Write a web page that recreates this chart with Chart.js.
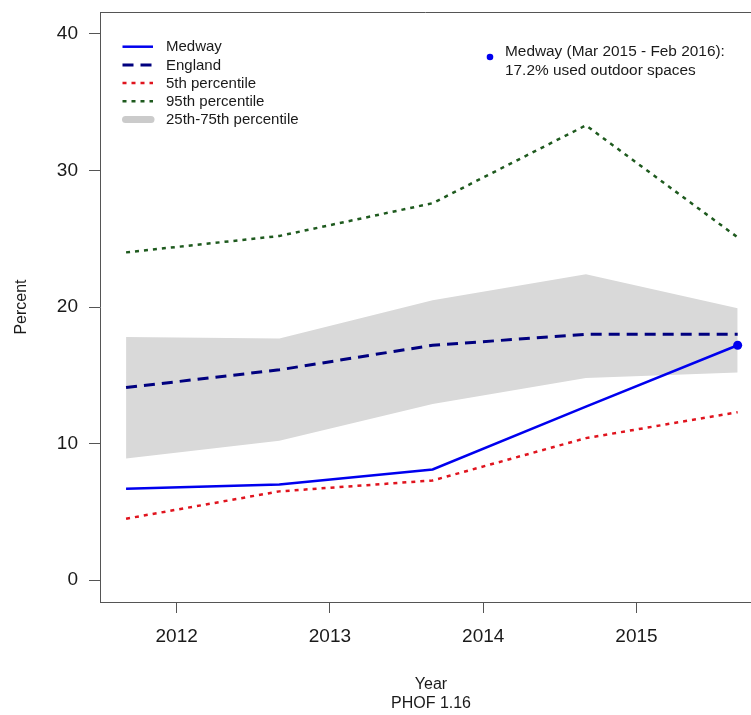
<!DOCTYPE html>
<html>
<head>
<meta charset="utf-8">
<script src="https://cdn.jsdelivr.net/npm/chart.js@4.4.1/dist/chart.umd.min.js"></script>
<style>
  html, body { margin: 0; padding: 0; background: #ffffff; overflow: hidden; width: 751px; height: 715px; }
  canvas { display: block; }
</style>
</head>
<body>
<canvas id="c" width="751" height="715"></canvas>
<script>
// Survey periods run March to February; each is plotted at its mid-point.
const periods = ['Mar 2011 - Feb 2012', 'Mar 2012 - Feb 2013', 'Mar 2013 - Feb 2014', 'Mar 2014 - Feb 2015', 'Mar 2015 - Feb 2016'];
const periodMid = [2011.67, 2012.67, 2013.67, 2014.67, 2015.66];

// Percentage of people using outdoor space for exercise / health reasons
const medway  = [6.7, 7.0, 8.1, 12.7, 17.2];
const england = [14.1, 15.4, 17.2, 18.0, 18.0];
const p5      = [4.5, 6.5, 7.3, 10.4, 12.3];
const p95     = [24.0, 25.2, 27.6, 33.3, 25.1];
const p25     = [8.9, 10.2, 12.9, 14.8, 15.2];
const p75     = [17.8, 17.7, 20.5, 22.4, 19.9];

const yearTicks = [2012, 2013, 2014, 2015];
const percentTicks = [0, 10, 20, 30, 40];

const FONT = "'Liberation Sans', Arial, Helvetica, sans-serif";
const AXIS = '#555555';
const TEXT = '#1a1a1a';

const pts = arr => arr.map((v, i) => ({ x: periodMid[i], y: v }));
const lastIdx = medway.length - 1;

const COLORS = {
  medway: '#0000EE',
  england: '#00007F',
  p5: '#E0141E',
  p95: '#1E5A1E',
  band: '#D9D9D9'
};

// Frame top, x-axis captions, legend block and the latest-value note
const notesPlugin = {
  id: 'notes',
  afterDraw(chart) {
    const ctx = chart.ctx;
    const a = chart.chartArea;
    ctx.save();

    ctx.strokeStyle = AXIS;
    ctx.lineWidth = 1;
    ctx.beginPath();
    ctx.moveTo(a.left, a.top + 0.5);
    ctx.lineTo(a.right, a.top + 0.5);
    ctx.stroke();

    // x-axis caption, centred on the full plot frame
    ctx.fillStyle = TEXT;
    ctx.textAlign = 'center';
    ctx.textBaseline = 'middle';
    ctx.font = '16px ' + FONT;
    ctx.fillText('Year', 431, 685);
    ctx.fillText('PHOF 1.16', 431, 704);

    const items = [
      { text: 'Medway', color: COLORS.medway, width: 2.5, dash: [] },
      { text: 'England', color: COLORS.england, width: 3, dash: [11, 7] },
      { text: '5th percentile', color: COLORS.p5, width: 2.5, dash: [4, 5] },
      { text: '95th percentile', color: COLORS.p95, width: 2.5, dash: [4, 5] },
      { text: '25th-75th percentile', color: '#CBCBCB', width: 7, dash: [], cap: 'round' }
    ];
    const x0 = 122.5, x1 = 153, tx = 166, y0 = 46.7, step = 18.2;
    ctx.font = '15px ' + FONT;
    ctx.textAlign = 'left';
    items.forEach((it, i) => {
      const y = y0 + i * step;
      ctx.beginPath();
      ctx.setLineDash(it.dash);
      ctx.lineCap = it.cap || 'butt';
      ctx.strokeStyle = it.color;
      ctx.lineWidth = it.width;
      if (it.cap) { ctx.moveTo(x0 + 3, y); ctx.lineTo(x1 - 2, y); }
      else { ctx.moveTo(x0, y); ctx.lineTo(x1, y); }
      ctx.stroke();
      ctx.setLineDash([]);
      ctx.fillStyle = TEXT;
      ctx.fillText(it.text, tx, y + 0.5);
    });

    // latest Medway value
    ctx.fillStyle = COLORS.medway;
    ctx.beginPath();
    ctx.arc(490, 57, 3.3, 0, Math.PI * 2);
    ctx.fill();
    ctx.fillStyle = TEXT;
    ctx.font = '15.4px ' + FONT;
    ctx.fillText('Medway (' + periods[lastIdx] + '):', 505, 51.5);
    ctx.fillText(medway[lastIdx].toFixed(1) + '% used outdoor spaces', 505, 70.5);
    ctx.restore();
  }
};

const lineSet = (label, data, color, width, dash) => ({
  label, data: pts(data), borderColor: color, backgroundColor: color,
  borderWidth: width, borderDash: dash, pointRadius: 0, fill: false,
  tension: 0, borderCapStyle: 'butt'
});

new Chart(document.getElementById('c'), {
  type: 'line',
  data: {
    datasets: [
      {
        label: '25th percentile', data: pts(p25), borderWidth: 0, pointRadius: 0,
        borderColor: 'rgba(0,0,0,0)', backgroundColor: COLORS.band, fill: false, tension: 0
      },
      {
        label: '75th percentile', data: pts(p75), borderWidth: 0, pointRadius: 0,
        borderColor: 'rgba(0,0,0,0)', backgroundColor: COLORS.band, fill: '-1', tension: 0
      },
      lineSet('95th percentile', p95, COLORS.p95, 2.5, [4, 5]),
      lineSet('5th percentile', p5, COLORS.p5, 2.5, [4, 5]),
      lineSet('England', england, COLORS.england, 3, [11, 7]),
      Object.assign(lineSet('Medway', medway, COLORS.medway, 2.5, []), {
        pointRadius: medway.map((v, i) => i === lastIdx ? 4.5 : 0),
        pointBorderWidth: 0,
        pointBackgroundColor: COLORS.medway
      })
    ]
  },
  options: {
    responsive: false,
    animation: false,
    devicePixelRatio: 1,
    layout: { autoPadding: false, padding: { top: 12, left: 0, right: 0, bottom: 0 } },
    plugins: {
      legend: { display: false },
      tooltip: { enabled: false },
      filler: { drawTime: 'beforeDatasetsDraw' }
    },
    scales: {
      x: {
        type: 'linear',
        min: 2011.5,
        max: 2015.747,
        afterBuildTicks: s => { s.ticks = yearTicks.map(v => ({ value: v })); },
        afterFit: s => { s.height = 113; s.paddingLeft = 0; s.paddingRight = 0; },
        grid: { drawOnChartArea: false, drawTicks: true, tickLength: 11, tickColor: AXIS, color: AXIS },
        border: { display: true, color: AXIS, width: 1 },
        ticks: {
          padding: 12, color: TEXT, maxRotation: 0, autoSkip: false,
          font: { family: FONT, size: 19 },
          callback: v => String(v)
        },
        title: { display: false }
      },
      y: {
        type: 'linear',
        min: -1.6,
        max: 41.6,
        afterBuildTicks: s => { s.ticks = percentTicks.map(v => ({ value: v })); },
        afterFit: s => { s.width = 100; s.paddingTop = 0; s.paddingBottom = 0; },
        grid: { drawOnChartArea: false, drawTicks: true, tickLength: 11, tickColor: AXIS, color: AXIS },
        border: { display: true, color: AXIS, width: 1 },
        ticks: {
          padding: 11, color: TEXT, autoSkip: false,
          font: { family: FONT, size: 19 },
          callback: v => String(v)
        },
        title: {
          display: true, text: 'Percent', color: TEXT,
          font: { family: FONT, size: 16 },
          padding: { top: 12, bottom: 0 }
        }
      }
    }
  },
  plugins: [notesPlugin]
});
</script>
</body>
</html>
